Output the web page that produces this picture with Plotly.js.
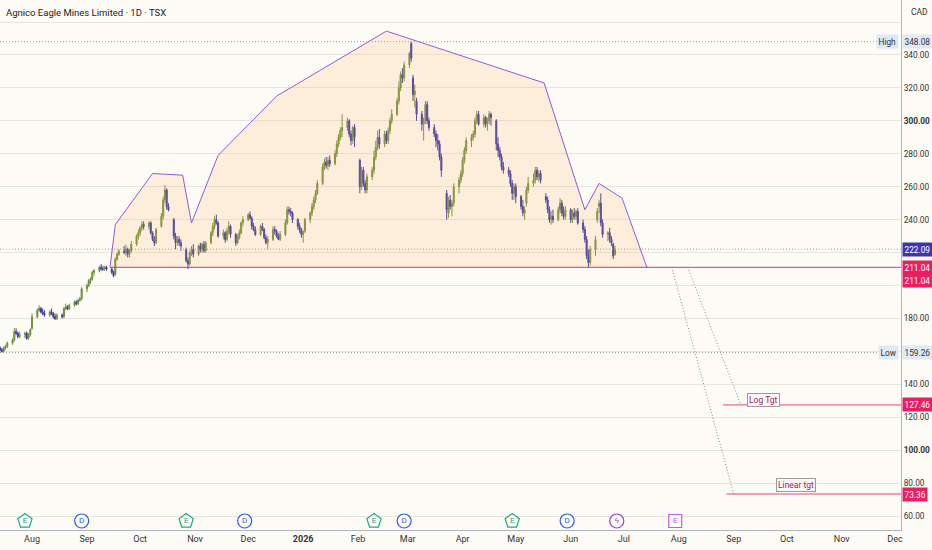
<!DOCTYPE html>
<html>
<head>
<meta charset="utf-8">
<script src="https://cdn.plot.ly/plotly-3.0.1.min.js"></script>
<style>
  html, body { margin: 0; padding: 0; background: #fdfbf6; }
  #chart { width: 932px; height: 550px; }
</style>
</head>
<body>
<div id="chart"></div>
<script>
// Agnico Eagle Mines - daily candles with head & shoulders drawing

// daily candles, one row per week (Mon..Fri), starting Mon 2025-07-14
const opens = [
  162,161,160,162,163,  165,167,172,171,169,  170,171,168,170,174,  181,185,186,184,183,
  182,184,183,181,180,  182,181,186,187,186,  188,190,189,191,192,  198,200,203,204,208,
  209,211,210,210,211,  210,208,207,216,219,  221,220,222,219,221,  225,230,232,235,237,
  236,238,232,228,226,  236,242,252,258,248,  240,230,226,228,226,  222,215,213,220,222,
  219,224,222,225,221,  226,232,236,240,238,  230,232,228,233,236,  231,226,229,232,238,
  240,243,241,236,234,  231,236,234,229,226,  228,234,233,230,228,  231,238,246,245,244,
  240,236,234,231,233,  240,244,248,252,256,  262,272,275,273,276,  274,280,286,290,294,
  296,300,292,288,296,  276,260,270,262,258,  266,270,278,284,290,  286,292,288,294,300,
  304,312,320,328,326,  334,347,326,316,312,  304,298,300,310,300,  296,292,288,286,278,
  256,244,252,248,250,  260,264,268,276,282,  288,290,292,300,304,  298,302,298,300,304,
  300,286,282,278,272,  270,268,262,256,260,  254,248,244,250,258,  262,264,270,266,268,
  254,252,246,240,242,  240,246,250,244,242,  246,240,244,242,245,  238,234,228,218,214,
  222,240,248,250,238,  231,232,228,225,219
];
const highs = [
  163,162,163,164,166,  168,174,174,172,172,  172,172,171,174,183,  186,188,187,186,185,
  185,186,184,183,183,  183,187,189,188,189,  191,191,192,193,199,  201,204,205,209,210,
  212,213,212,212,212,  211,209,217,220,222,  224,225,223,222,227,  231,234,236,239,239,
  239,239,233,230,235,  244,254,261,259,250,  241,232,230,230,228,  223,217,221,224,225,
  225,226,226,227,227,  233,238,242,243,239,  234,233,235,239,237,  232,231,234,239,242,
  244,245,242,238,236,  237,238,235,231,230,  236,236,234,232,233,  240,248,248,247,245,
  241,238,235,233,241,  245,250,254,258,264,  274,277,278,278,279,  282,288,292,296,304,
  302,301,294,297,298,  277,272,272,264,268,  272,282,288,294,295,  294,294,296,302,307,
  314,324,330,332,336,  342,348.08,328,322,314,  306,302,312,312,302,  298,294,292,288,280,
  258,254,255,252,262,  266,270,278,284,290,  292,294,302,306,306,  304,303,302,306,305,
  301,290,284,280,275,  272,270,264,262,262,  255,252,248,260,266,  268,272,272,270,270,
  256,254,248,245,246,  248,253,252,248,248,  247,246,247,246,247,  240,236,230,222,224,
  230,247,252,256,240,  233,235,230,226,224
];
const lows = [
  160,159.26,159.5,161,162,  164,166,170,168,168,  168,167,167,169,173,  180,184,183,182,181,
  181,182,180,179,179,  180,180,185,185,185,  187,188,188,190,191,  196,199,201,203,206,
  208,209,209,209,209,  207,205,206,215,218,  219,218,217,217,220,  224,228,230,233,234,
  234,231,227,224,225,  235,240,250,246,245,  228,222,224,224,221,  214,210,212,218,217,
  218,220,220,220,220,  225,230,234,237,229,  228,226,227,231,229,  224,225,228,231,236,
  239,240,234,233,230,  230,233,228,225,222,  227,231,229,228,227,  230,237,243,242,238,
  234,232,229,226,232,  238,242,246,250,255,  261,270,271,270,272,  273,278,284,288,290,
  294,290,285,286,284,  256,258,260,256,256,  264,268,276,282,283,  284,286,286,292,298,
  303,310,318,323,324,  332,336,312,308,300,  294,288,298,298,294,  290,284,282,276,266,
  240,241,246,242,248,  256,262,266,274,280,  284,288,290,298,297,  296,296,294,298,297,
  282,278,276,270,268,  266,260,252,252,250,  246,242,240,248,256,  260,262,264,263,262,
  250,244,238,237,238,  239,244,242,240,240,  238,238,240,240,237,  232,226,216,211.04,212,
  218,238,244,236,229,  227,226,224,216,218
];
const closes = [
  161,160,162,163,165,  167,172,171,169,170,  171,168,170,173,181,  185,186,184,183,182,
  184,183,181,180,182,  181,186,187,186,188,  190,189,191,192,198,  200,203,204,208,209,
  211,210,210,211,210,  208,206,216,219,221,  220,222,219,221,225,  230,232,235,237,236,
  238,232,228,226,234,  242,252,258,248,246,  230,226,228,226,224,  215,213,220,222,219,
  224,222,225,221,226,  232,236,240,238,230,  232,228,233,236,231,  226,229,232,238,240,
  243,241,236,234,231,  236,234,229,226,228,  234,233,230,228,231,  238,246,245,244,240,
  236,234,231,233,240,  244,248,252,256,262,  272,275,273,276,274,  280,286,290,294,296,
  300,292,288,296,290,  260,270,262,258,266,  270,278,284,290,286,  292,288,294,300,304,
  312,320,328,326,334,  341,338,316,318,304,  298,300,310,300,296,  292,288,286,278,270,
  246,252,248,250,260,  264,268,276,282,288,  290,292,300,304,298,  302,298,300,304,302,
  286,282,278,272,270,  268,262,256,260,254,  248,244,246,258,262,  264,270,266,268,264,
  252,246,240,242,240,  246,250,244,242,246,  240,244,242,245,238,  234,228,218,214,222,
  228,245,250,238,231,  232,228,226,218,222.09
];

// head & shoulders outline (date, price)
const patternDates = ['2025-09-14','2025-09-17','2025-10-08','2025-10-25','2025-10-30','2025-11-14',
  '2025-12-17','2026-02-17','2026-05-17','2026-06-09','2026-06-17','2026-06-30','2026-07-14'];
const patternPrices = [211.04, 237, 268, 267, 238, 279, 315, 354.5, 323, 246, 262, 253, 211.04];

// key levels
const neckline = 211.04;
const lastPrice = 222.09;
const highPrice = 348.08;
const lowPrice = 159.26;
const logTarget = 127.46;
const linearTarget = 73.36;

// measured-move projections (start date on neckline -> end date at target)
const projStart = ['2026-07-28', '2026-08-06'];
const projEnd = ['2026-09-01', '2026-09-05'];
const projTo = [linearTarget, logTarget];

// events row along the bottom
const eventDates = ['2025-07-28','2025-08-29','2025-10-27','2025-11-29','2026-02-10','2026-02-27',
  '2026-04-29','2026-05-30','2026-06-27','2026-07-30'];
const eventKinds = ['E','D','E','D','E','D','E','D','S','F'];

// axis labels
const monthTicks = ['2025-08-01','2025-09-01','2025-10-01','2025-11-01','2025-12-01','2026-01-01',
  '2026-02-01','2026-03-01','2026-04-01','2026-05-01','2026-06-01','2026-07-01','2026-08-01',
  '2026-09-01','2026-10-01','2026-11-01','2026-12-01'];
const monthLabels = ['Aug','Sep','Oct','Nov','Dec','<b>2026</b>','Feb','Mar','Apr','May','Jun','Jul',
  'Aug','Sep','Oct','Nov','Dec'];
const priceTicks = [60,80,100,120,140,160,180,200,220,240,260,280,300,320,340,360];
const hiddenTicks = [200, 220, 360];   // covered by price tags / cut at the top
const boldTicks = [100, 300];

// trading days (weekdays) from the first candle
const dates = [];
for (let d = new Date(Date.UTC(2025, 6, 14)); dates.length < closes.length; d.setUTCDate(d.getUTCDate() + 1)) {
  const wd = d.getUTCDay();
  if (wd !== 0 && wd !== 6) dates.push(d.toISOString().slice(0, 10));
}

const FONT = "'Roboto', 'Liberation Sans', sans-serif";
const COLORS = {
  bg: '#fdfbf6',
  grid: '#e8e5df',
  axis: '#b2b5be',
  up: '#72903f',
  down: '#3b38ab',
  pattern: '#8c5ed0',
  patternFill: 'rgba(255,176,80,0.16)',
  neck: '#c23a8e',
  target: '#e8467c',
  tagRed: '#e91e63',
  tagLast: '#3f33b0',
  tagInfo: '#dfe9f6'
};
const DOTS = '1px,2px';

const patternTrace = {
  x: patternDates,
  y: patternPrices,
  type: 'scatter',
  mode: 'lines',
  fill: 'toself',
  fillcolor: COLORS.patternFill,
  line: { color: COLORS.pattern, width: 1 },
  hoverinfo: 'skip'
};

const candles = {
  x: dates,
  open: opens,
  high: highs,
  low: lows,
  close: closes,
  type: 'candlestick',
  whiskerwidth: 0,
  increasing: { line: { color: COLORS.up, width: 1 }, fillcolor: COLORS.up },
  decreasing: { line: { color: COLORS.down, width: 1 }, fillcolor: COLORS.down },
  hoverinfo: 'skip'
};

// event badges
function eventTrace(kind, symbol, color, label, size) {
  const xs = eventDates.filter((d, i) => eventKinds[i] === kind);
  return {
    x: xs,
    y: xs.map(() => 0.017),
    yaxis: 'y2',
    type: 'scatter',
    mode: 'markers+text',
    text: xs.map(() => label),
    textposition: 'middle center',
    textfont: { family: FONT, size: 8, color: color },
    marker: { symbol: symbol, size: size, color: COLORS.bg, line: { color: color, width: 1.2 } },
    cliponaxis: false,
    hoverinfo: 'skip'
  };
}

const data = [
  patternTrace,
  candles,
  eventTrace('E', 'pentagon', '#22a68a', 'E', 15),
  eventTrace('D', 'circle', '#2f5fe0', 'D', 14),
  eventTrace('S', 'circle', '#9c3fd0', 'ϟ', 14),
  eventTrace('F', 'square', '#c45ae0', 'E', 13)
];

function hline(y, color, dash, x0, x1, xref) {
  return { type: 'line', xref: xref || 'paper', yref: 'y', x0: x0, x1: x1, y0: y, y1: y,
           line: { color: color, width: 1, dash: dash } };
}

const shapes = [
  hline(highPrice, '#9a9a9a', DOTS, 0, 0.978),
  hline(lastPrice, '#9a9a9a', DOTS, 0, 1),
  hline(lowPrice, '#9a9a9a', DOTS, 0, 0.978),
  hline(neckline, COLORS.neck, 'solid', '2025-09-14', '2026-12-20', 'x'),
  hline(logTarget, COLORS.target, 'solid', '2026-08-26', '2026-12-20', 'x'),
  hline(linearTarget, COLORS.target, 'solid', '2026-08-28', '2026-12-20', 'x')
];
projStart.forEach((d, i) => {
  shapes.push({ type: 'line', xref: 'x', yref: 'y', x0: d, x1: projEnd[i], y0: neckline, y1: projTo[i],
                line: { color: '#8a8a8a', width: 1, dash: DOTS } });
});

function tag(y, text, bg, color, shift) {
  return { xref: 'paper', yref: 'y', x: 1, y: y, xanchor: 'left', yanchor: 'middle', xshift: 1,
           yshift: shift || 0, text: text, showarrow: false, bgcolor: bg, borderpad: 1.5,
           font: { family: FONT, size: 8.3, color: color } };
}
function sideLabel(y, text) {
  return { xref: 'paper', yref: 'y', x: 1, y: y, xanchor: 'right', yanchor: 'middle', xshift: -2,
           text: text, showarrow: false, bgcolor: COLORS.tagInfo, borderpad: 1.5,
           font: { family: FONT, size: 8.3, color: '#333' } };
}
function boxLabel(x, y, text) {
  return { xref: 'x', yref: 'y', x: x, y: y, text: text, showarrow: false, bgcolor: '#fbf7f7',
           bordercolor: '#9a9a9a', borderwidth: 1, borderpad: 1,
           font: { family: FONT, size: 8.5, color: '#a1245a' } };
}

const annotations = [
  { xref: 'paper', yref: 'paper', x: 0.004, y: 0.977, xanchor: 'left', yanchor: 'middle',
    text: 'Agnico Eagle Mines Limited · 1D · TSX', showarrow: false,
    font: { family: FONT, size: 9.5, color: '#222' } },
  { xref: 'paper', yref: 'paper', x: 1, y: 0.977, xanchor: 'left', yanchor: 'middle', xshift: 8,
    text: 'CAD', showarrow: false, font: { family: FONT, size: 8.5, color: '#333' } },
  sideLabel(highPrice, 'High'),
  sideLabel(lowPrice, 'Low'),
  tag(highPrice, '348.08', COLORS.tagInfo, '#333'),
  tag(lastPrice, '222.09', COLORS.tagLast, '#fff'),
  tag(neckline, '211.04', COLORS.tagRed, '#fff'),
  tag(neckline, '211.04', COLORS.tagRed, '#fff', -13),
  tag(lowPrice, '159.26', COLORS.tagInfo, '#333'),
  tag(logTarget, '127.46', COLORS.tagRed, '#fff'),
  tag(linearTarget, '73.36', COLORS.tagRed, '#fff'),
  boxLabel('2026-09-18', 130.3, 'Log Tgt'),
  boxLabel('2026-10-06', 78.8, 'Linear tgt')
];

const layout = {
  width: 932,
  height: 550,
  margin: { l: 0, r: 31, t: 0, b: 20 },
  paper_bgcolor: COLORS.bg,
  plot_bgcolor: COLORS.bg,
  showlegend: false,
  hovermode: false,
  boxgap: 0.15,
  font: { family: FONT, size: 9, color: '#333' },
  xaxis: {
    type: 'date',
    range: ['2025-07-13 22:00', '2026-12-04 10:00'],
    tickvals: monthTicks,
    ticktext: monthLabels,
    showgrid: false,
    zeroline: false,
    showline: true,
    linecolor: COLORS.axis,
    ticks: '',
    tickfont: { family: FONT, size: 9, color: '#333' },
    rangeslider: { visible: false },
    fixedrange: true
  },
  yaxis: {
    side: 'right',
    range: [51.5, 373.4],
    tickvals: priceTicks,
    ticktext: priceTicks.map(v => hiddenTicks.includes(v) ? '' :
      (boldTicks.includes(v) ? '<b>' + v.toFixed(2) + '</b>' : v.toFixed(2))),
    showgrid: true,
    gridcolor: COLORS.grid,
    zeroline: false,
    showline: true,
    linecolor: COLORS.axis,
    ticks: '',
    tickfont: { family: FONT, size: 8.3, color: '#333' },
    fixedrange: true
  },
  yaxis2: {
    overlaying: 'y',
    range: [0, 1],
    visible: false,
    fixedrange: true
  },
  shapes: shapes,
  annotations: annotations
};

Plotly.newPlot('chart', data, layout, { displayModeBar: false, staticPlot: true });
</script>
</body>
</html>
